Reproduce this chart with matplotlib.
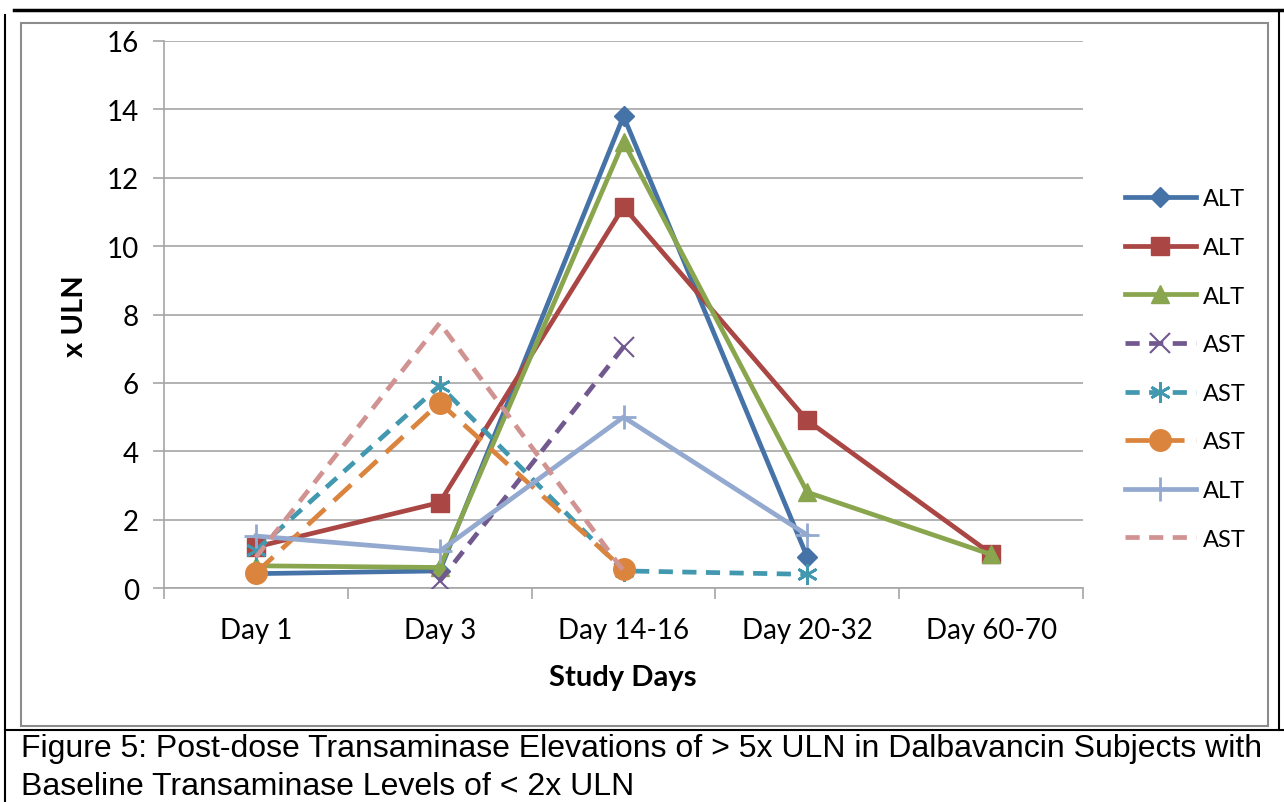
import numpy as np
import matplotlib
matplotlib.use("Agg")
import matplotlib.pyplot as plt
from matplotlib.lines import Line2D
from matplotlib.patches import Rectangle

nan = np.nan

# data
days = ['Day 1', 'Day 3', 'Day 14-16', 'Day 20-32', 'Day 60-70']
alt_a = [0.42, 0.5, 13.8, 0.9, nan]
alt_b = [1.2, 2.5, 11.15, 4.9, 1.0]
alt_c = [0.65, 0.6, 13.05, 2.8, 0.98]
ast_a = [nan, 0.2, 7.05, nan, nan]
ast_b = [1.1, 5.92, 0.5, 0.4, nan]
ast_c = [0.44, 5.42, 0.55, nan, nan]
alt_d = [1.52, 1.08, 5.0, 1.55, nan]
ast_d = [0.9, 7.75, 0.5, nan, nan]
labels = ['ALT', 'ALT', 'ALT', 'AST', 'AST', 'AST', 'ALT', 'AST']
caption = ('Figure 5: Post-dose Transaminase Elevations of > 5x ULN in Dalbavancin Subjects with\n'
           'Baseline Transaminase Levels of < 2x ULN')

W, H = 1284, 803
plt.rcParams['font.family'] = ['Lato', 'DejaVu Sans']

fig = plt.figure(figsize=(W / 100, H / 100), dpi=100)

def fx(x):
    return x / W

def fy(y):
    return 1 - y / H

ax = fig.add_axes([fx(164), fy(589), fx(1083) - fx(164), fy(42) - fy(589)])

x = np.arange(len(days))
series = [
    (alt_a, '#4572A7', '-', 'D', 10.5, None),
    (alt_b, '#AA4643', '-', 's', 12.5, None),
    (alt_c, '#89A54E', '-', '^', 13.5, None),
    (ast_a, '#71588F', (0, (3, 2)), 'x', 14, 1.5),
    (ast_b, '#4198AF', (0, (3, 2)), (6, 2, 0), 15, 2.0),
    (ast_c, '#DB843D', (0, (5, 2.5)), 'o', 15.5, None),
    (alt_d, '#93A9CF', '-', '+', 17, 2.0),
    (ast_d, '#D19392', (0, (3, 2)), None, 0, None),
]

for i, (vals, col, ls, mk, ms, mew) in enumerate(series):
    kw = {}
    if mew is not None:
        kw['markeredgewidth'] = mew
    ax.plot(x, vals, color=col, linestyle=ls, linewidth=3.4, marker=mk,
            markersize=ms, markerfacecolor=col, markeredgecolor=col,
            label=labels[i], zorder=3 + i, **kw)

ax.set_xlim(-0.5, len(days) - 0.5)
ax.set_ylim(0, 16)
ax.set_yticks(np.arange(0, 17, 2))
ax.set_xticks(x)
ax.set_xticklabels(days)
ax.set_xticks(np.arange(-0.5, len(days), 1), minor=True)

grid_col = '#A6A6A6'
ax.yaxis.grid(True, color=grid_col, linewidth=1.2)
ax.set_axisbelow(True)
for s in ['top', 'right']:
    ax.spines[s].set_visible(False)
for s in ['left', 'bottom']:
    ax.spines[s].set_color(grid_col)
    ax.spines[s].set_linewidth(1.2)

ax.tick_params(axis='y', length=8, width=1.2, color=grid_col, pad=10, labelsize=20)
ax.tick_params(axis='x', which='major', length=0, pad=21, labelsize=20)
ax.tick_params(axis='x', which='minor', length=8, width=1.2, color=grid_col)

fig.text(fx(75), fy(316), 'x ULN', rotation=90, ha='center', va='center',
         fontsize=21, fontweight='bold')
fig.text(fx(623), fy(678), 'Study Days', ha='center', va='center',
         fontsize=21, fontweight='bold')

ax.legend(loc='center left', bbox_to_anchor=(fx(1125), fy(370)),
          bbox_transform=fig.transFigure, frameon=False, fontsize=17,
          handlelength=3.0, handletextpad=0.3, labelspacing=1.17,
          borderpad=0, borderaxespad=0)

# frames around the chart and caption
fig.add_artist(Rectangle((fx(21), fy(727)), fx(1268) - fx(21), fy(24) - fy(727),
                         transform=fig.transFigure, fill=False,
                         edgecolor='#8C8C8C', linewidth=1.5))
fig.add_artist(Line2D([fx(14), 1], [fy(11), fy(11)], color='black', linewidth=2.5))
fig.add_artist(Line2D([fx(5), fx(5)], [fy(16), 0], color='black', linewidth=1.5))
fig.add_artist(Line2D([fx(1279), fx(1279)], [fy(11), fy(731)], color='black', linewidth=1.5))
fig.add_artist(Line2D([fx(5), 1], [fy(731), fy(731)], color='black', linewidth=1.5))

fig.text(fx(21), fy(768), caption, ha='left', va='center', fontsize=23,
         family='Liberation Sans', linespacing=1.35)

fig.savefig('out.png', dpi=100)
